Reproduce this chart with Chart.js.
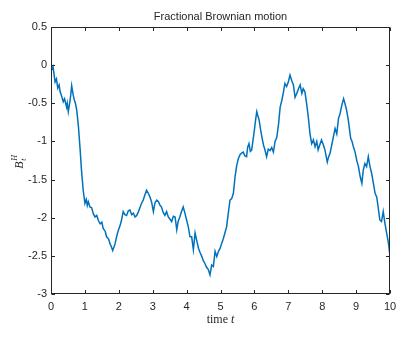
<!DOCTYPE html>
<html>
<head>
<meta charset="utf-8">
<script src="https://cdn.jsdelivr.net/npm/chart.js@4/dist/chart.umd.min.js"></script>
<style>
  html, body { margin: 0; padding: 0; background: #ffffff; }
  #wrap { width: 409px; height: 341px; }
</style>
</head>
<body>
<div id="wrap"><canvas id="c" width="409" height="341"></canvas></div>
<script>
// Sample path of fractional Brownian motion B_t^H on 0 <= t <= 10
const times = [
  0.00, 0.03, 0.06, 0.12, 0.16, 0.20, 0.24, 0.27, 0.31, 0.36, 0.40, 0.46, 0.48, 0.51, 0.55, 0.58,
  0.61, 0.65, 0.69, 0.72, 0.76, 0.81, 0.86, 0.90, 0.95, 1.00, 1.04, 1.07, 1.10, 1.15, 1.20, 1.25,
  1.30, 1.35, 1.40, 1.45, 1.50, 1.54, 1.60, 1.64, 1.70, 1.74, 1.78, 1.82, 1.86, 1.89, 1.94, 1.99,
  2.04, 2.08, 2.13, 2.18, 2.23, 2.28, 2.33, 2.38, 2.43, 2.48, 2.53, 2.58, 2.63, 2.68, 2.72, 2.77,
  2.82, 2.87, 2.92, 2.97, 3.02, 3.07, 3.12, 3.17, 3.22, 3.26, 3.31, 3.36, 3.41, 3.46, 3.51, 3.56,
  3.61, 3.66, 3.71, 3.75, 3.80, 3.85, 3.90, 3.95, 4.00, 4.05, 4.10, 4.15, 4.20, 4.25, 4.30, 4.35,
  4.40, 4.45, 4.50, 4.54, 4.59, 4.64, 4.69, 4.74, 4.79, 4.84, 4.89, 4.94, 4.99, 5.04, 5.08, 5.13,
  5.18, 5.23, 5.28, 5.33, 5.38, 5.43, 5.48, 5.53, 5.58, 5.63, 5.67, 5.72, 5.77, 5.80, 5.84, 5.88,
  5.92, 5.96, 6.00, 6.04, 6.07, 6.10, 6.14, 6.18, 6.22, 6.27, 6.31, 6.36, 6.41, 6.46, 6.51, 6.56,
  6.61, 6.66, 6.71, 6.76, 6.81, 6.85, 6.90, 6.95, 7.00, 7.05, 7.10, 7.15, 7.20, 7.25, 7.30, 7.35,
  7.40, 7.44, 7.49, 7.54, 7.59, 7.64, 7.69, 7.74, 7.79, 7.84, 7.88, 7.94, 7.98, 8.03, 8.08, 8.15,
  8.19, 8.23, 8.28, 8.33, 8.38, 8.43, 8.48, 8.53, 8.58, 8.63, 8.67, 8.72, 8.77, 8.84, 8.88, 8.92,
  8.97, 9.02, 9.07, 9.12, 9.17, 9.21, 9.26, 9.31, 9.36, 9.41, 9.46, 9.51, 9.56, 9.61, 9.65, 9.70,
  9.75, 9.80, 9.85, 9.90, 9.95, 10.00
];
const values = [
  0.00, -0.05, -0.02, -0.22, -0.18, -0.30, -0.26, -0.35, -0.40, -0.48, -0.44, -0.55, -0.50, -0.61, -0.50, -0.40,
  -0.27, -0.38, -0.46, -0.50, -0.59, -0.81, -1.11, -1.38, -1.64, -1.81, -1.76, -1.84, -1.79, -1.86, -1.87, -1.95,
  -1.99, -1.97, -2.04, -2.08, -2.06, -2.14, -2.18, -2.25, -2.28, -2.34, -2.38, -2.43, -2.38, -2.34, -2.24, -2.16,
  -2.10, -2.03, -1.92, -1.96, -1.97, -1.91, -1.90, -1.96, -1.94, -1.99, -1.97, -1.92, -1.86, -1.80, -1.77, -1.70,
  -1.64, -1.68, -1.73, -1.80, -1.92, -1.80, -1.77, -1.79, -1.84, -1.86, -1.93, -1.97, -1.92, -1.99, -2.02, -2.05,
  -1.98, -1.99, -2.16, -2.05, -1.99, -1.92, -1.86, -1.94, -2.03, -2.12, -2.25, -2.25, -2.42, -2.20, -2.30, -2.40,
  -2.46, -2.51, -2.57, -2.60, -2.65, -2.68, -2.75, -2.62, -2.64, -2.44, -2.51, -2.44, -2.40, -2.33, -2.28, -2.20,
  -2.12, -1.94, -1.77, -1.75, -1.68, -1.46, -1.31, -1.22, -1.17, -1.15, -1.14, -1.19, -1.20, -1.08, -1.03, -1.13,
  -1.11, -0.98, -0.85, -0.70, -0.61, -0.66, -0.72, -0.84, -0.94, -1.05, -1.11, -1.20, -1.10, -1.12, -1.08, -1.14,
  -1.00, -0.95, -0.78, -0.55, -0.46, -0.37, -0.24, -0.28, -0.22, -0.13, -0.20, -0.26, -0.42, -0.37, -0.31, -0.26,
  -0.37, -0.31, -0.35, -0.50, -0.68, -0.90, -1.03, -0.98, -1.07, -1.00, -1.11, -1.03, -0.98, -1.04, -1.11, -1.27,
  -1.20, -1.16, -1.05, -0.94, -0.83, -0.90, -0.70, -0.63, -0.52, -0.44, -0.50, -0.59, -0.72, -0.96, -1.00, -1.07,
  -1.14, -1.25, -1.33, -1.46, -1.55, -1.38, -1.29, -1.33, -1.20, -1.33, -1.42, -1.55, -1.68, -1.73, -1.86, -2.03,
  -2.05, -1.92, -2.07, -2.20, -2.32, -2.50
];

// Axis ticks
const xTicks = [0, 1, 2, 3, 4, 5, 6, 7, 8, 9, 10];
const yTicks = [-3, -2.5, -2, -1.5, -1, -0.5, 0, 0.5];

const titleText = 'Fractional Brownian motion';
const xLabelText = ['time ', 't'];
const yLabelText = ['B', 't', 'H'];

const INK = '#262626';
const SANS = '"Liberation Sans", Arial, Helvetica, sans-serif';
const SERIF = '"Liberation Serif", "Times New Roman", serif';

// Box around the axes, inward ticks on all four sides, title and axis labels
const framePlugin = {
  id: 'frame',
  afterDraw(chart) {
    const { ctx, chartArea: a, scales: { x, y } } = chart;
    const L = Math.round(a.left) + 0.5, R = Math.round(a.right) - 0.5;
    const T = Math.round(a.top) + 0.5, B = Math.round(a.bottom) - 0.5;
    ctx.save();
    ctx.strokeStyle = INK;
    ctx.lineWidth = 1;
    ctx.strokeRect(L, T, R - L, B - T);
    const tl = 3.5;
    ctx.beginPath();
    xTicks.forEach(v => {
      const px = Math.round(x.getPixelForValue(v)) + 0.5;
      ctx.moveTo(px, B); ctx.lineTo(px, B - tl);
      ctx.moveTo(px, T); ctx.lineTo(px, T + tl);
    });
    yTicks.forEach(v => {
      const py = Math.round(y.getPixelForValue(v)) + 0.5;
      ctx.moveTo(L, py); ctx.lineTo(L + tl, py);
      ctx.moveTo(R, py); ctx.lineTo(R - tl, py);
    });
    ctx.stroke();

    // title
    const cx = (a.left + a.right) / 2;
    ctx.fillStyle = INK;
    ctx.textAlign = 'center';
    ctx.textBaseline = 'middle';
    ctx.font = '11px ' + SANS;
    ctx.fillText(titleText, cx, 17);

    // x axis label: "time t" with italic t
    ctx.font = '12px ' + SERIF;
    const w1 = ctx.measureText(xLabelText[0]).width;
    ctx.font = 'italic 12px ' + SERIF;
    const w2 = ctx.measureText(xLabelText[1]).width;
    const sx = cx - (w1 + w2) / 2;
    ctx.textAlign = 'left';
    ctx.font = '12px ' + SERIF;
    ctx.fillText(xLabelText[0], sx, 320);
    ctx.font = 'italic 12px ' + SERIF;
    ctx.fillText(xLabelText[1], sx + w1, 320);

    // y axis label: B with subscript t and superscript H, rotated
    ctx.translate(20, 162);
    ctx.rotate(-Math.PI / 2);
    ctx.textAlign = 'left';
    ctx.font = 'italic 12px ' + SERIF;
    const wb = ctx.measureText(yLabelText[0]).width;
    const x0 = -(wb + 6) / 2;
    ctx.fillText(yLabelText[0], x0, 0);
    ctx.font = 'italic 8px ' + SERIF;
    ctx.fillText(yLabelText[1], x0 + wb + 0.5, 4);
    ctx.fillText(yLabelText[2], x0 + wb + 0.5, -5);
    ctx.restore();
  }
};

new Chart(document.getElementById('c'), {
  type: 'line',
  data: {
    datasets: [{
      data: times.map((t, i) => ({ x: t, y: values[i] })),
      borderColor: '#0072BD',
      borderWidth: 1.5,
      pointRadius: 0,
      tension: 0,
      fill: false
    }]
  },
  options: {
    responsive: false,
    animation: false,
    layout: { padding: { top: 27, right: 19, left: 0, bottom: 0 } },
    plugins: { legend: { display: false }, tooltip: { enabled: false }, title: { display: false } },
    scales: {
      x: {
        type: 'linear',
        min: 0, max: 10,
        afterFit: s => { s.height = 47; },
        afterBuildTicks: s => { s.ticks = xTicks.map(v => ({ value: v })); },
        grid: { display: false, drawTicks: false },
        border: { display: false },
        ticks: { color: INK, font: { family: SANS, size: 11 }, padding: 6, maxRotation: 0,
                 callback: v => String(v) }
      },
      y: {
        type: 'linear',
        min: -3, max: 0.5,
        afterFit: s => { s.width = 51; },
        afterBuildTicks: s => { s.ticks = yTicks.map(v => ({ value: v })); },
        grid: { display: false, drawTicks: false },
        border: { display: false },
        ticks: { color: INK, font: { family: SANS, size: 11 }, padding: 4,
                 callback: v => String(v) }
      }
    }
  },
  plugins: [framePlugin]
});
</script>
</body>
</html>
